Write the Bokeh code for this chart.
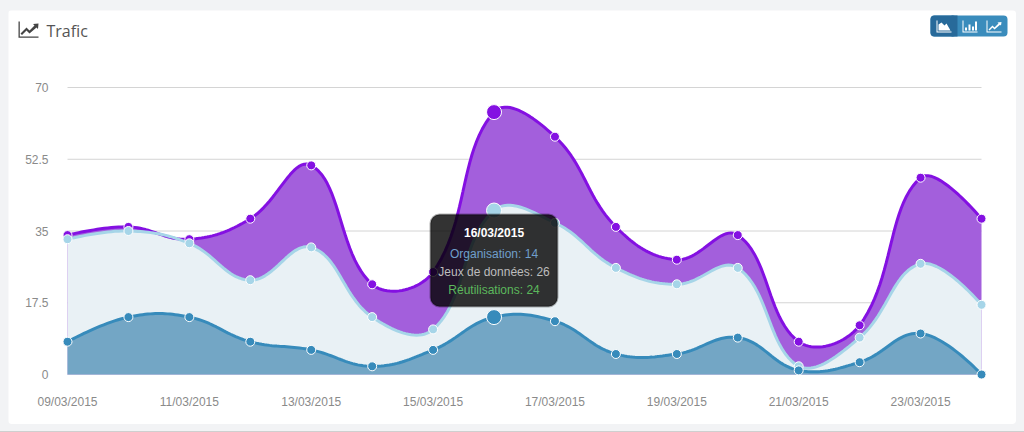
import numpy as np
from bokeh.plotting import figure
from bokeh.embed import file_html
from bokeh.resources import INLINE
from bokeh.models import (BoxAnnotation, PolyAnnotation, Label, FixedTicker, LinearAxis,
                          GlobalInlineStyleSheet, Range1d)

dates = ["09/03/2015", "10/03/2015", "11/03/2015", "12/03/2015", "13/03/2015", "14/03/2015",
         "15/03/2015", "16/03/2015", "17/03/2015", "18/03/2015", "19/03/2015", "20/03/2015",
         "21/03/2015", "22/03/2015", "23/03/2015", "24/03/2015"]
organisation = [8, 14, 14, 8, 6, 2, 6, 14, 13, 5, 5, 9, 1, 3, 10, 0]
jeux = [25, 21, 18, 15, 25, 12, 5, 26, 24, 21, 17, 17, 1, 6, 17, 17]
reutilisations = [1, 1, 1, 15, 20, 8, 14, 24, 21, 10, 6, 8, 6, 3, 21, 21]
y_ticks = [0, 17.5, 35, 52.5, 70]
y_tick_labels = ["0", "17.5", "35", "52.5", "70"]
hover_index = 7

# image-pixel geometry of the plot area
X0, X1 = 67.0, 981.0      # first / last date
Y0, Y70 = 374.0, 87.0     # value 0 / value 70
DX = (X1 - X0) / (len(dates) - 1)
DY = (Y0 - Y70) / 70.0
CARD = (8, 1016, 10, 424)  # left, right, top, bottom of the white card


def px(x):
    return (x - X0) / DX


def py(y):
    return (Y0 - y) / DY


def spline(ys, tension=0.4, n=24):
    """Chart.js-1 style bezier curve through the points (in pixel space, capped at the baseline)."""
    pts = np.column_stack([np.arange(len(ys)) * DX, np.asarray(ys, float) * DY])
    inner, outer = pts.copy(), pts.copy()
    for i in range(1, len(pts) - 1):
        a, b, c = pts[i - 1], pts[i], pts[i + 1]
        d1, d2 = np.hypot(*(b - a)), np.hypot(*(c - b))
        s = d1 + d2
        inner[i] = b - tension * d1 / s * (c - a)
        outer[i] = b + tension * d2 / s * (c - a)
    inner[:, 1] = np.maximum(inner[:, 1], 0)
    outer[:, 1] = np.maximum(outer[:, 1], 0)
    xs, yy = [], []
    t = np.linspace(0, 1, n)[:, None]
    for i in range(len(pts) - 1):
        seg = ((1 - t) ** 3 * pts[i] + 3 * (1 - t) ** 2 * t * outer[i]
               + 3 * (1 - t) * t ** 2 * inner[i + 1] + t ** 3 * pts[i + 1])
        xs.extend(seg[:, 0] / DX)
        yy.extend(seg[:, 1] / DY)
    return np.array(xs), np.array(yy)


s1 = np.array(organisation, float)
s2 = s1 + np.array(jeux)
s3 = s2 + np.array(reutilisations)
xi = np.arange(len(dates))

p = figure(width=CARD[1] - CARD[0], height=CARD[3] - CARD[2], output_backend="svg", toolbar_location=None,
           x_range=Range1d(px(CARD[0]), px(CARD[1])),
           y_range=Range1d(py(CARD[3]), py(CARD[2])),
           x_axis_type=None, y_axis_type=None,
           min_border=0,
           border_fill_color="white", background_fill_color="white",
           outline_line_color=None, margin=(CARD[2], 8, 8, CARD[0]),
           styles={"border-radius": "4px", "overflow": "hidden"})
p.stylesheets = [GlobalInlineStyleSheet(css=(
    "html,body{background:#f2f3f5;margin:0;padding:0;overflow:hidden;}"
    "body::after{content:'';position:fixed;left:0;right:0;bottom:0;height:1px;background:#cfcfcf;}"))]
p.grid.visible = False

yaxis = LinearAxis(ticker=FixedTicker(ticks=y_ticks), fixed_location=px(58),
                   major_label_overrides=dict(zip(y_ticks, y_tick_labels)),
                   axis_line_color=None, major_tick_line_color=None, minor_tick_line_color=None,
                   major_label_text_color="#8a8a8a", major_label_text_font="Liberation Sans",
                   major_label_text_font_size="12px", major_label_standoff=4)
xaxis = LinearAxis(ticker=FixedTicker(ticks=list(xi[::2])), fixed_location=py(382),
                   major_label_overrides={int(i): dates[i] for i in xi[::2]},
                   axis_line_color=None, major_tick_line_color=None, minor_tick_line_color=None,
                   major_label_text_color="#8a8a8a", major_label_text_font="Liberation Sans",
                   major_label_text_font_size="12px", major_label_standoff=6)
p.add_layout(yaxis, "left")
p.add_layout(xaxis, "below")

p.segment(x0=[0] * len(y_ticks), x1=[len(dates) - 1] * len(y_ticks), y0=y_ticks, y1=y_ticks,
          line_color="#d4d4d4", line_width=1)

series = [(s3, "#a35fdc", "#8410e2"), (s2, "#e9f1f5", "#a6d5e8"), (s1, "#73a6c5", "#378bbb")]
for ys, fill, line in series:
    cx, cy = spline(ys)
    p.patch(np.r_[cx[0], cx, cx[-1]], np.r_[0, cy, 0], fill_color=fill, line_color=None)
for ys, fill, line in series:
    cx, cy = spline(ys)
    p.line(cx, cy, line_color=line, line_width=3)
for ys, fill, line in series:
    rest = [i for i in xi if i != hover_index]
    p.scatter(xi[rest], ys[rest], size=9, marker="circle", fill_color=line, line_color="white", line_width=1)
    p.scatter([xi[hover_index]], [ys[hover_index]], size=15, marker="circle", fill_color=line,
              line_color="white", line_width=1)


def box(x0, x1, y0, y1, fill, radius=0, alpha=1.0, line=None, lw=1):
    p.add_layout(BoxAnnotation(left=px(x0), right=px(x1), top=py(y0), bottom=py(y1),
                               fill_color=fill, fill_alpha=alpha, line_color=line, line_width=lw,
                               border_radius=radius, level="overlay", editable=False))


def poly(points, color):
    p.add_layout(PolyAnnotation(xs=[px(a) for a, _ in points], ys=[py(b) for _, b in points],
                                fill_color=color, fill_alpha=1, line_color=None, level="overlay"))


def text(x, y, s, color, size="12px", font="Liberation Sans", style="normal", align="center"):
    p.add_layout(Label(x=px(x), y=py(y), text=s, text_color=color, text_font=font, text_font_size=size,
                       text_font_style=style, text_align=align, text_baseline="middle", level="overlay"))


# tooltip
box(430, 557, 214, 306, "#000000", radius=9, alpha=0.8, line="#000000", lw=2)
tx = 67 + hover_index * DX
text(tx, 232, dates[hover_index], "#ffffff", style="bold")
text(tx, 253, f"Organisation: {organisation[hover_index]}", "#6f9fcb")
text(tx, 271, f"Jeux de données: {jeux[hover_index]}", "#bdbdbd")
text(tx, 289, f"Réutilisations: {reutilisations[hover_index]}", "#5cb85c")

# title
text(46, 30, "Trafic", "#555555", size="16px", font="Open Sans", align="left")
ic = "#444444"
poly([(18, 21), (19.3, 21), (19.3, 36), (38, 36), (38, 37.3), (18, 37.3)], ic)
poly([(20, 33), (26, 27), (29, 30), (34, 25), (32.5, 23.5), (38, 23), (37.5, 28.5), (36, 27), (29, 33), (26, 30), (21.5, 34.5)], ic)

# buttons
box(930, 1007, 15, 36, "#3a8cbc", radius=4)
box(930, 956, 15, 36, "#286a9a", radius=4)
box(951, 957, 15, 36, "#286a9a")
wh = "#ffffff"
poly([(936, 32), (936, 20), (937, 20), (937, 31), (951, 31), (951, 32)], wh)
poly([(938, 30), (938, 24), (941, 22), (944, 25), (946, 23), (950, 30)], wh)
poly([(962, 32), (962, 20), (963, 20), (963, 31), (977, 31), (977, 32)], wh)
for bx, by in [(964.5, 27), (968, 24), (971.5, 26), (974.5, 21)]:
    poly([(bx, 30), (bx, by), (bx + 2, by), (bx + 2, 30)], wh)
poly([(986, 32), (986, 20), (987, 20), (987, 31), (1001, 31), (1001, 32)], wh)
poly([(988, 29), (992, 25), (994, 27), (998, 23), (997, 22), (1001, 21.5), (1000.5, 25), (999.5, 24.3), (994, 29), (992, 27), (989, 30)], wh)

open("out.html", "w").write(file_html(p, INLINE))
